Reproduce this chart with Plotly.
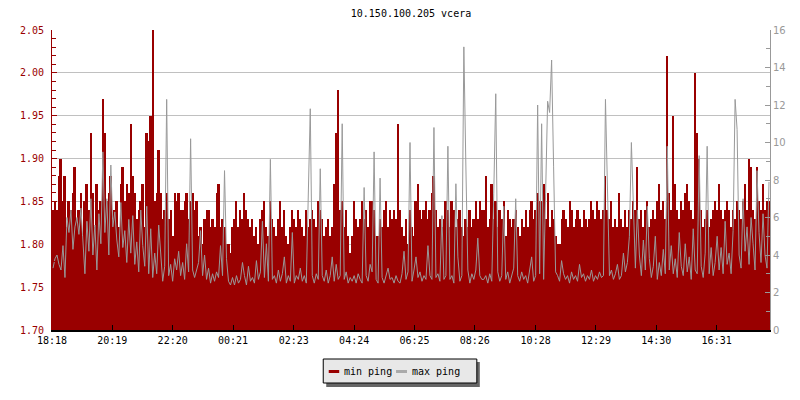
import plotly.graph_objects as go
from datetime import datetime, timedelta

title_text = "10.150.100.205 vcera"
start_time = datetime(2024, 1, 1, 18, 18)
step_minutes = 4

tick_labels = ["18:18", "20:19", "22:20", "00:21", "02:23", "04:24",
               "06:25", "08:26", "10:28", "12:29", "14:30", "16:31"]
legend_names = ["min ping", "max ping"]

min_ping = [
    # 18:18 - 23:06
    1.84, 1.85, 1.84, 1.88, 1.90, 1.85, 1.88, 1.82, 1.85, 1.84, 1.86, 1.89,
    1.83, 1.84, 1.86, 1.81, 1.85, 1.87, 1.84, 1.93, 1.86, 1.82, 1.87, 1.84,
    1.85, 1.97, 1.93, 1.85, 1.86, 1.88, 1.83, 1.84, 1.85, 1.82, 1.87, 1.89,
    1.85, 1.87, 1.86, 1.94, 1.88, 1.86, 1.83, 1.84, 1.85, 1.87, 1.82, 1.93,
    1.92, 1.95, 2.05, 1.85, 1.86, 1.91, 1.86, 1.83, 1.84, 1.86, 1.83, 1.84,
    1.81, 1.86, 1.85, 1.86, 1.84, 1.84, 1.85, 1.86, 1.83, 1.85, 1.86, 1.84,
    # 23:06 - 03:54
    1.85, 1.81, 1.82, 1.80, 1.83, 1.84, 1.84, 1.82, 1.83, 1.82, 1.86, 1.87,
    1.82, 1.83, 1.82, 1.80, 1.80, 1.79, 1.82, 1.83, 1.85, 1.82, 1.84, 1.83,
    1.86, 1.84, 1.83, 1.82, 1.83, 1.81, 1.82, 1.80, 1.83, 1.84, 1.85, 1.82,
    1.81, 1.85, 1.83, 1.82, 1.81, 1.83, 1.85, 1.82, 1.84, 1.81, 1.80, 1.82,
    1.84, 1.83, 1.82, 1.84, 1.83, 1.82, 1.81, 1.84, 1.82, 1.83, 1.84, 1.83,
    1.82, 1.85, 1.84, 1.83, 1.81, 1.82, 1.83, 1.81, 1.82, 1.87, 1.93, 1.98,
    # 03:54 - 08:42
    1.84, 1.85, 1.82, 1.84, 1.81, 1.79, 1.81, 1.85, 1.83, 1.82, 1.83, 1.85,
    1.83, 1.84, 1.82, 1.85, 1.85, 1.84, 1.81, 1.81, 1.83, 1.82, 1.84, 1.85,
    1.82, 1.84, 1.83, 1.84, 1.83, 1.94, 1.84, 1.82, 1.81, 1.83, 1.80, 1.84,
    1.82, 1.81, 1.85, 1.87, 1.84, 1.83, 1.84, 1.85, 1.83, 1.84, 1.86, 1.88,
    1.84, 1.82, 1.83, 1.82, 1.83, 1.85, 1.84, 1.82, 1.85, 1.84, 1.82, 1.83,
    1.84, 1.82, 1.81, 1.83, 1.82, 1.84, 1.82, 1.83, 1.85, 1.83, 1.85, 1.84,
    # 08:42 - 13:30
    1.84, 1.88, 1.82, 1.83, 1.87, 1.83, 1.85, 1.82, 1.84, 1.83, 1.85, 1.81,
    1.84, 1.83, 1.82, 1.83, 1.84, 1.82, 1.81, 1.83, 1.82, 1.84, 1.82, 1.84,
    1.85, 1.83, 1.84, 1.86, 1.85, 1.85, 1.87, 1.83, 1.86, 1.82, 1.84, 1.83,
    1.81, 1.80, 1.80, 1.83, 1.84, 1.83, 1.82, 1.85, 1.84, 1.82, 1.83, 1.84,
    1.83, 1.82, 1.84, 1.83, 1.82, 1.83, 1.85, 1.84, 1.83, 1.85, 1.84, 1.83,
    1.84, 1.88, 1.84, 1.83, 1.85, 1.82, 1.83, 1.82, 1.86, 1.83, 1.82, 1.84,
    # 13:30 - 18:18
    1.82, 1.84, 1.83, 1.85, 1.84, 1.89, 1.83, 1.84, 1.82, 1.84, 1.85, 1.82,
    1.83, 1.84, 1.83, 1.85, 1.87, 1.84, 1.85, 1.83, 2.02, 1.86, 1.84, 1.95,
    1.87, 1.84, 1.83, 1.85, 1.84, 1.86, 1.87, 1.85, 1.84, 1.83, 2.00, 1.93,
    1.90, 1.84, 1.82, 1.83, 1.84, 1.82, 1.83, 1.84, 1.85, 1.84, 1.87, 1.84,
    1.83, 1.84, 1.85, 1.84, 1.82, 1.84, 1.83, 1.85, 1.84, 1.83, 1.85, 1.87,
    1.84, 1.90, 1.89, 1.84, 1.83, 1.89, 1.85, 1.84, 1.87, 1.84, 1.85, 1.85,
]

max_ping = [
    # 18:18 - 23:06
    3.3, 3.8, 4.0, 3.5, 3.2, 4.5, 2.8, 6.0, 5.2, 6.4, 4.3, 5.5,
    6.0, 5.1, 6.5, 4.4, 3.0, 5.8, 4.2, 7.0, 4.0, 5.6, 3.2, 6.2,
    4.6, 9.5, 5.2, 7.0, 4.0, 8.8, 5.5, 6.3, 4.8, 3.9, 6.8, 4.4,
    5.3, 3.6, 5.9, 4.1, 6.1, 3.5, 4.7, 3.1, 6.4, 4.5, 3.4, 6.6,
    3.0, 5.4, 2.8, 4.1, 3.0, 5.6, 4.3, 2.6, 3.4, 12.3, 2.9, 3.5,
    2.6, 3.8, 3.2, 4.2, 2.9, 3.6, 2.7, 4.6, 3.1, 10.2, 3.2, 2.8,
    # 23:06 - 03:54
    3.2, 3.6, 5.3, 2.9, 4.0, 2.7, 3.3, 2.5, 3.0, 2.6, 3.1, 2.8,
    4.5, 2.9, 8.5, 3.8, 2.6, 2.4, 2.8, 2.4, 2.9, 2.5, 2.7, 3.6,
    2.9, 2.4, 3.4, 2.6, 2.8, 2.5, 3.7, 2.7, 3.1, 5.8, 2.8, 4.6,
    2.6, 9.1, 2.7, 2.9, 2.5, 3.2, 2.6, 3.0, 3.9, 2.5, 2.9, 2.6,
    5.2, 2.5, 2.9, 2.7, 3.3, 2.6, 2.9, 2.5, 7.2, 11.8, 2.9, 2.5,
    3.0, 2.7, 8.6, 2.9, 2.6, 3.2, 2.5, 2.9, 3.9, 2.6, 3.5, 2.7,
    # 03:54 - 08:42
    2.9, 11.0, 2.7, 3.1, 2.5, 2.8, 2.6, 2.9, 2.5, 3.0, 2.7, 2.5,
    7.6, 2.9, 2.6, 3.5, 3.1, 9.5, 2.7, 2.5, 8.1, 2.8, 2.5, 2.9,
    3.3, 2.7, 2.8, 2.5, 2.9, 2.6, 2.5, 3.0, 4.2, 2.7, 3.1, 10.0,
    2.6, 3.2, 3.9, 2.8, 3.1, 2.6, 2.9, 2.7, 4.5, 2.9, 2.7, 10.8,
    2.8, 3.0, 2.6, 6.1, 2.7, 2.9, 9.8, 2.7, 2.9, 2.5, 7.8, 3.9,
    2.6, 2.9, 15.1, 8.8, 3.2, 2.5, 3.0, 2.7, 3.2, 4.9, 2.9, 2.7,
    # 08:42 - 13:30
    2.7, 2.9, 2.5, 3.0, 2.6, 7.3, 12.6, 3.1, 2.6, 2.9, 6.6, 2.7,
    3.1, 2.5, 2.9, 3.3, 7.0, 2.9, 2.6, 3.1, 2.7, 2.9, 2.5, 3.2,
    3.9, 2.6, 2.9, 12.0, 3.0, 11.0, 2.7, 7.3, 12.2, 11.6, 14.4, 8.7,
    3.1, 2.9, 2.6, 3.7, 3.0, 2.7, 2.9, 2.5, 3.1, 2.7, 2.9, 2.6,
    3.5, 2.8, 3.0, 2.6, 2.9, 2.7, 3.2, 2.6, 2.9, 2.7, 3.1, 2.8,
    2.9, 12.3, 7.1, 2.9, 3.2, 2.7, 3.0, 3.5, 2.7, 2.9, 4.1, 3.1,
    # 13:30 - 18:18
    3.6, 5.0, 10.0, 6.6, 3.3, 6.4, 4.0, 2.9, 4.8, 3.2, 6.6, 3.8,
    2.8, 3.4, 5.0, 2.7, 3.6, 2.9, 4.3, 3.0, 9.8, 3.2, 4.5, 3.0,
    3.8, 2.8, 5.2, 3.4, 2.9, 4.6, 3.1, 3.9, 2.7, 5.4, 3.2, 3.0,
    9.3, 3.4, 2.8, 4.1, 9.8, 3.0, 4.4, 2.9, 3.6, 5.0, 3.2, 4.4,
    3.0, 5.8, 3.5, 4.1, 3.0, 5.3, 12.3, 10.7, 4.0, 3.3, 7.0, 4.2,
    5.5, 3.5, 6.0, 4.6, 3.2, 8.5, 5.2, 3.6, 6.2, 4.0, 3.3, 7.9,
]

# --- derived values -------------------------------------------------------
times = [start_time + timedelta(minutes=step_minutes * (i + 0.5))
         for i in range(len(min_ping))]
end_time = start_time + timedelta(days=1)

tick_vals = []
for lab in tick_labels:
    h, m = (int(p) for p in lab.split(":"))
    t = start_time.replace(hour=h, minute=m)
    if t < start_time:
        t += timedelta(days=1)
    tick_vals.append(t)

RED = "#990000"
GREY = "#999999"
MONO = "DejaVu Sans Mono"

# page has an 8px body margin; plot area is 720x300 px
ML, MT, PW, PH = 42, 22, 720, 300


def px(xp):   # figure-pixel x -> paper x
    return (xp - ML) / PW


def py(yp):   # figure-pixel y -> paper y
    return (MT + PH - yp) / PH


fig = go.Figure()
fig.add_trace(go.Bar(
    x=times, y=min_ping, name=legend_names[0], showlegend=False,
    width=step_minutes * 60 * 1000,
    marker=dict(color=RED, line=dict(width=0)),
    yaxis="y",
))
fig.add_trace(go.Scatter(
    x=times, y=max_ping, name=legend_names[1], mode="lines", showlegend=False,
    line=dict(color=GREY, width=1),
    yaxis="y2",
))

# legend box (drawn like the original: grey box with drop shadow)
shapes = [
    dict(type="rect", xref="paper", yref="paper",
         x0=px(317), x1=px(471), y0=py(354), y1=py(379),
         fillcolor="#666666", line=dict(width=0)),
    dict(type="rect", xref="paper", yref="paper",
         x0=px(314), x1=px(468), y0=py(351), y1=py(375),
         fillcolor="#e8e8e8", line=dict(color="black", width=1)),
    dict(type="line", xref="paper", yref="paper",
         x0=px(319.5), x1=px(330), y0=py(363.5), y1=py(363.5),
         line=dict(color=RED, width=3)),
    dict(type="line", xref="paper", yref="paper",
         x0=px(387), x1=px(398), y0=py(363.5), y1=py(363.5),
         line=dict(color="#aaaaaa", width=3)),
]
annotations = [
    dict(text=legend_names[0], xref="paper", yref="paper",
         x=px(333), y=py(363), xanchor="left", yanchor="middle",
         showarrow=False, font=dict(family=MONO, size=10, color="black")),
    dict(text=legend_names[1], xref="paper", yref="paper",
         x=px(401), y=py(363), xanchor="left", yanchor="middle",
         showarrow=False, font=dict(family=MONO, size=10, color="black")),
]

fig.update_layout(
    width=800, height=400,
    margin=dict(l=ML, r=800 - ML - PW, t=MT, b=400 - MT - PH),
    paper_bgcolor="white", plot_bgcolor="white",
    bargap=0,
    showlegend=False,
    title=dict(text=title_text, x=0.5, xref="paper", xanchor="center",
               y=1 - 5 / 400, yanchor="middle",
               font=dict(family=MONO, size=10, color="black")),
    font=dict(family=MONO, size=10, color="black"),
    xaxis=dict(
        type="date", range=[start_time, end_time],
        tickmode="array", tickvals=tick_vals, ticktext=tick_labels,
        ticks="inside", ticklen=5, tickcolor="black", tickwidth=1,
        showline=True, linecolor="black", linewidth=2,
        showgrid=False, zeroline=False,
        tickfont=dict(family=MONO, size=10, color="black"),
    ),
    yaxis=dict(
        range=[1.70, 2.05], tick0=1.70, dtick=0.05, tickformat=".2f",
        ticks="inside", ticklen=5, tickcolor=RED,
        showline=True, linecolor=RED, linewidth=1,
        showgrid=True, gridcolor="#c0c0c0", gridwidth=1, zeroline=False,
        tickfont=dict(family=MONO, size=10, color=RED),
        ticklabelstandoff=5,
        minor=dict(dtick=0.01, ticks="inside", ticklen=4, tickcolor=RED,
                   showgrid=False),
    ),
    yaxis2=dict(
        range=[0, 16], dtick=2, overlaying="y", side="right",
        ticks="inside", ticklen=5, tickcolor=GREY,
        showline=True, linecolor=GREY, linewidth=1,
        showgrid=False, zeroline=False,
        tickfont=dict(family="DejaVu Sans", size=10, color=GREY),
        minor=dict(dtick=1, ticks="inside", ticklen=4, tickcolor=GREY),
    ),
    shapes=shapes,
    annotations=annotations,
)

fig.write_html("out.html")
